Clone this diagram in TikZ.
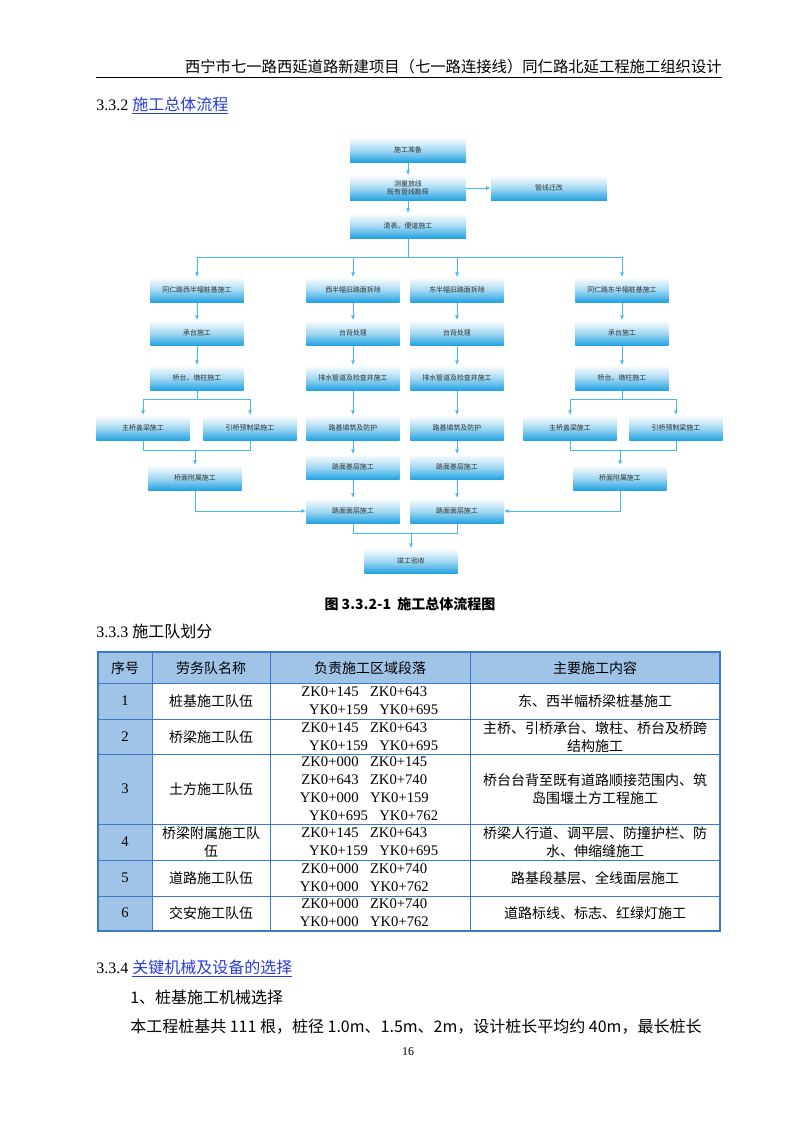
\documentclass[tikz,border=0pt]{standalone}
\usepackage{fontspec}
\setmainfont{Liberation Serif}
\newfontfamily\cjk{Noto Sans CJK SC}
\usetikzlibrary{arrows.meta}
\definecolor{bx}{RGB}{30,160,225}
\definecolor{ln}{RGB}{70,185,240}
\definecolor{tb}{RGB}{60,120,200}
\definecolor{hd}{RGB}{160,196,232}
\definecolor{lk}{RGB}{40,60,220}
\begin{document}
\begin{tikzpicture}[x=0.75pt,y=-0.75pt,
 box/.style={draw=none,top color=white,bottom color=bx,middle color=white!60!bx,minimum width=70pt,minimum height=19pt,inner sep=0pt,font=\cjk\fontsize{5.2}{6}\selectfont,align=center,text=black!80},
 wbox/.style={box,minimum width=87pt},
 con/.style={draw=ln,line width=0.6pt},
 arr/.style={con,-{Latex[length=3.5pt,width=3pt]}},
 tx/.style={inner sep=0pt,font=\cjk\fontsize{10.5}{14}\selectfont,align=center},
 tn/.style={inner sep=0pt,font=\fontsize{11}{13.5}\selectfont,align=center},
 body/.style={inner sep=0pt,anchor=base west,font=\cjk\fontsize{12}{14}\selectfont}]
\useasboundingbox (0,0) rectangle (800,1132);
% header
\node[inner sep=0pt,anchor=base east,font=\cjk\fontsize{11.5}{14}\selectfont] (hdr) at (722,72) {西宁市七一路西延道路新建项目（七一路连接线）同仁路北延工程施工组织设计};
\draw[line width=0.6pt] (96,77) -- (722,77);
\node[body] (s332) at (96,110) {\fontspec{Liberation Serif}3.3.2 \cjk\color{lk}\underline{施工总体流程}};
% flowchart
\node[wbox] (prep) at (408,150) {施工准备};
\node[wbox] (surv) at (408,188) {测量放线\\既有管线勘探};
\node[wbox] (pipe) at (549,188) {管线迁改};
\node[wbox] (clr) at (408,226) {清表、便道施工};
\node[box] (a1) at (197,290) {同仁路西半幅桩基施工};
\node[box] (b1) at (353,290) {西半幅旧路面拆除};
\node[box] (c1) at (457,290) {东半幅旧路面拆除};
\node[box] (d1) at (622,290) {同仁路东半幅桩基施工};
\node[box] (a2) at (197,333) {承台施工};
\node[box] (b2) at (353,333) {台背处理};
\node[box] (c2) at (457,333) {台背处理};
\node[box] (d2) at (622,333) {承台施工};
\node[box] (a3) at (197,378) {桥台、墩柱施工};
\node[box] (b3) at (353,378) {排水管道及检查井施工};
\node[box] (c3) at (457,378) {排水管道及检查井施工};
\node[box] (d3) at (622,378) {桥台、墩柱施工};
\node[box] (a4) at (143,428) {主桥盖梁施工};
\node[box] (a4b) at (250,428) {引桥预制梁施工};
\node[box] (b4) at (353,428) {路基填筑及防护};
\node[box] (c4) at (457,428) {路基填筑及防护};
\node[box] (d4) at (570,428) {主桥盖梁施工};
\node[box] (d4b) at (676,428) {引桥预制梁施工};
\node[box] (a5) at (195,478) {桥面附属施工};
\node[box] (b5) at (353,467) {路面基层施工};
\node[box] (c5) at (457,467) {路面基层施工};
\node[box] (d5) at (620,478) {桥面附属施工};
\node[box] (b6) at (353,511) {路面面层施工};
\node[box] (c6) at (457,511) {路面面层施工};
\node[box] (fin) at (411,561) {竣工验收};
\coordinate (h1) at (408,257);
\coordinate (h2) at (197,399);
\coordinate (h3) at (622,399);
\coordinate (h4) at (195,450);
\coordinate (h5) at (620,450);
\coordinate (h6) at (411,533);
\draw[arr] (prep) -- (surv);
\draw[arr] (surv) -- (pipe);
\draw[arr] (surv) -- (clr);
\draw[con] (clr) -- (h1);
\foreach \n in {a1,b1,c1,d1} \draw[arr] (h1) -| (\n);
\foreach \u/\v in {a1/a2,a2/a3,b1/b2,b2/b3,b3/b4,b4/b5,b5/b6,c1/c2,c2/c3,c3/c4,c4/c5,c5/c6,d1/d2,d2/d3}
  \draw[arr] (\u) -- (\v);
\draw[con] (a3) -- (h2);
\draw[arr] (h2) -| (a4); \draw[arr] (h2) -| (a4b);
\draw[con] (d3) -- (h3);
\draw[arr] (h3) -| (d4); \draw[arr] (h3) -| (d4b);
\draw[con] (a4) |- (h4); \draw[con] (a4b) |- (h4); \draw[arr] (h4) -- (a5);
\draw[con] (d4) |- (h5); \draw[con] (d4b) |- (h5); \draw[arr] (h5) -- (d5);
\draw[arr] (a5) |- (b6);
\draw[arr] (d5) |- (c6);
\draw[con] (b6) |- (h6); \draw[con] (c6) |- (h6); \draw[arr] (h6) -- (fin);
\node[inner sep=0pt,font=\cjk\bfseries\fontsize{10.5}{12}\selectfont] (cap) at (410,604) {图 3.3.2-1\ \ 施工总体流程图};
\node[body] (s333) at (96,637) {\fontspec{Liberation Serif}3.3.3 \cjk 施工队划分};
% table
\fill[hd] (98,652) rectangle (720,683);
\fill[hd] (98,683) rectangle (152,931);
\foreach \y in {683,719,754,824,860,896} \draw[tb,line width=0.6pt] (98,\y) -- (720,\y);
\foreach \x in {152,270,470} \draw[tb,line width=0.6pt] (\x,652) -- (\x,931);
\draw[tb,line width=1.6pt] (98,652) rectangle (720,931);
\node[tx] (t01) at (125,668) {序号};
\node[tx] (t02) at (211,668) {劳务队名称};
\node[tx] (t03) at (370,668) {负责施工区域段落};
\node[tx] (t04) at (595,668) {主要施工内容};
\foreach \r/\y/\n/\a/\c in {
 1/701/桩基施工队伍/{ZK0+145～ZK0+643、\\ \ \ YK0+159～YK0+695}/东、西半幅桥梁桩基施工,
 2/737/桥梁施工队伍/{ZK0+145～ZK0+643、\\ \ \ YK0+159～YK0+695}/{主桥、引桥承台、墩柱、桥台及桥跨\\结构施工},
 3/789/土方施工队伍/{ZK0+000～ZK0+145、\\ZK0+643～ZK0+740、\\YK0+000～YK0+159、\\ \ \ YK0+695～YK0+762}/{桥台台背至既有道路顺接范围内、筑\\岛围堰土方工程施工},
 4/842/{桥梁附属施工队\\伍}/{ZK0+145～ZK0+643、\\ \ \ YK0+159～YK0+695}/{桥梁人行道、调平层、防撞护栏、防\\水、伸缩缝施工},
 5/878/道路施工队伍/{ZK0+000～ZK0+740、\\YK0+000～YK0+762、}/路基段基层、全线面层施工,
 6/913/交安施工队伍/{ZK0+000～ZK0+740、\\YK0+000～YK0+762、}/道路标线、标志、红绿灯施工}
{
 \node[tn] (r\r a) at (125,\y) {\r};
 \node[tx] (r\r b) at (211,\y) {\n};
 \node[tn] (r\r c) at (370,\y) {\a};
 \node[tx] (r\r d) at (595,\y) {\c};
}
\node[body] (s334) at (96,973) {\fontspec{Liberation Serif}3.3.4 \cjk\color{lk}\underline{关键机械及设备的选择}};
\node[body] (p1) at (130,1003) {1、桩基施工机械选择};
\node[body] (p2) at (130,1032) {本工程桩基共 111 根，桩径 1.0m、1.5m、2m，设计桩长平均约 40m，最长桩长};
\node[inner sep=0pt,font=\fontsize{9}{10}\selectfont] (pg) at (408,1052) {16};
\end{tikzpicture}
\end{document}
